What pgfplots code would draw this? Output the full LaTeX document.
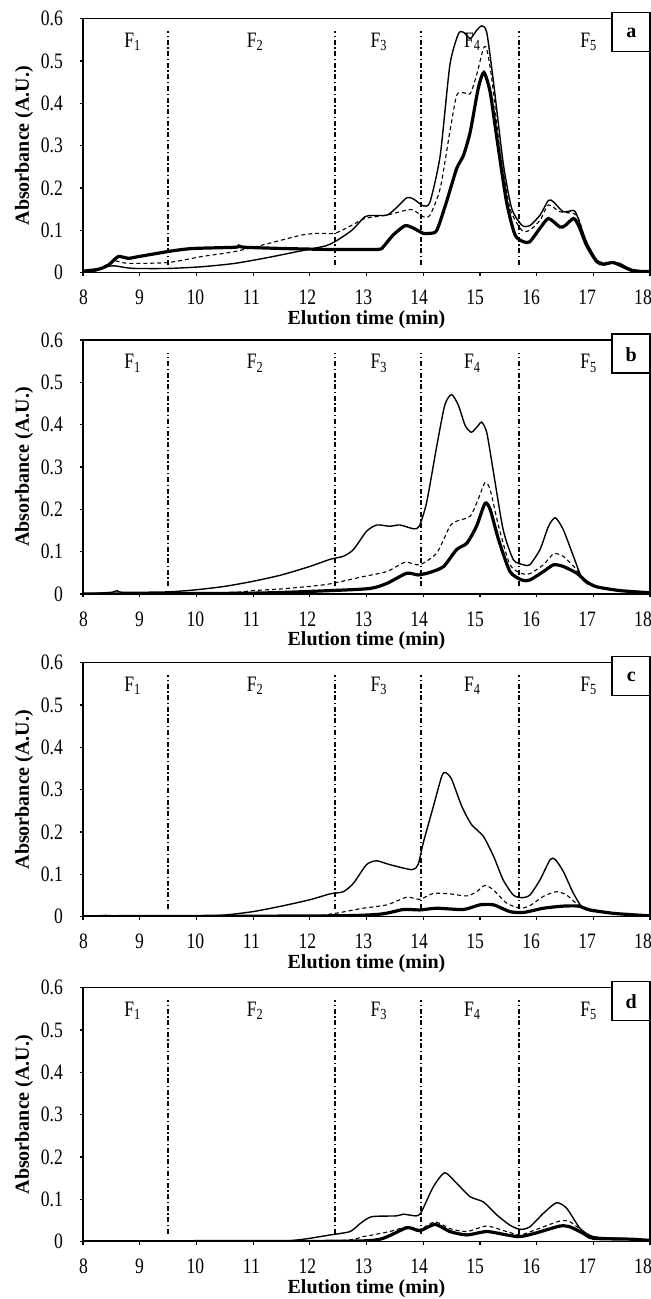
\documentclass[border=0pt]{standalone}
\usepackage{pgfplots}
\pgfplotsset{compat=1.18}
\usepackage{fontspec}
\setmainfont{Liberation Serif}
\newfontfamily\narrowfam{Liberation Serif}[FakeStretch=0.8]
\newcommand{\tickfont}{\narrowfam\fontsize{11}{13}\selectfont}
\newcommand{\ffont}{\narrowfam\fontsize{11}{13}\selectfont}
\newcommand{\labfont}{\fontsize{10}{12}\selectfont\bfseries}
\pgfplotsset{
  panel/.style={
    scale only axis, width=283.5pt, height=127pt, anchor=south west,
    xmin=8, xmax=18, ymin=0, ymax=0.6,
    xtick={8,9,...,18}, ytick={0,0.1,0.2,0.3,0.4,0.5,0.6},
    xtick pos=bottom, ytick pos=left, tick align=outside, major tick length=1.5pt,
    tick style={black, line width=0.6pt},
    axis line style={black, line width=0.7pt},
    /pgf/number format/fixed, /pgf/number format/precision=1,
    /pgf/number format/assume math mode=true,
    tick label style={font=\tickfont},
    xticklabel style={anchor=center, yshift=-11pt, xshift={(0.3-0.38*\ticknum)*1pt}},
    yticklabel style={anchor=east, xshift=-5pt},
    xlabel={Elution time (min)}, ylabel={Absorbance (A.U.)},
    label style={font=\labfont},
    xlabel style={at={(axis description cs:0.5,0)}, anchor=center, yshift=-23.5pt},
    ylabel style={at={(axis description cs:0,0.5)}, anchor=center, yshift=29.5pt},
    clip mode=individual,
  },
}
\tikzset{
  sthin/.style={black, line width=0.7pt, smooth, tension=0.4},
  sthick/.style={black, line width=1.6pt, smooth, tension=0.4},
  sdsh/.style={black, line width=0.55pt, dash pattern=on 2pt off 1.5pt, smooth, tension=0.4},
  vdash/.style={black, line width=0.9pt, dash pattern=on 2.5pt off 1.3pt on 0.7pt off 1.3pt},
}
\newcommand{\decor}[1]{%
  \draw[vdash] (axis cs:9.5,0.018) -- (axis cs:9.5,0.57);
  \draw[vdash] (axis cs:12.44,0.018) -- (axis cs:12.44,0.57);
  \draw[vdash] (axis cs:13.96,0.018) -- (axis cs:13.96,0.57);
  \draw[vdash] (axis cs:15.69,0.018) -- (axis cs:15.69,0.57);
  \node[anchor=base, font=\ffont] at (axis cs:8.88,0.532) {F\textsubscript{1}};
  \node[anchor=base, font=\ffont] at (axis cs:11.04,0.532) {F\textsubscript{2}};
  \node[anchor=base, font=\ffont] at (axis cs:13.22,0.532) {F\textsubscript{3}};
  \node[anchor=base, font=\ffont] at (axis cs:14.87,0.532) {F\textsubscript{4}};
  \node[anchor=base, font=\ffont] at (axis cs:16.92,0.532) {F\textsubscript{5}};
  \draw[black, fill=white, line width=0.7pt] (axis cs:17.33,0.522) rectangle (axis cs:18,0.614);
  \node[font=\labfont] at (axis cs:17.67,0.566) {#1};
}
\begin{document}
\begin{tikzpicture}
\useasboundingbox (0,0) rectangle (325.5pt,649.5pt);
% ---------------- panel a
\begin{axis}[panel, at={(41.5pt,513.15pt)}]
\addplot[sthin] coordinates {(8,0) (8.2,0.003) (8.39,0.014) (8.56,0.016) (8.75,0.012) (8.92,0.01) (9.5,0.01) (10.09,0.014) (10.68,0.022) (11.27,0.036) (11.86,0.052) (12.27,0.063) (12.44,0.073) (12.74,0.1) (12.97,0.132) (13.1,0.135) (13.36,0.136) (13.5,0.15) (13.71,0.177) (13.83,0.174) (14.0,0.158) (14.12,0.167) (14.3,0.277) (14.47,0.49) (14.62,0.564) (14.71,0.568) (14.83,0.553) (14.94,0.572) (15.03,0.583) (15.12,0.568) (15.24,0.45) (15.41,0.26) (15.56,0.152) (15.74,0.112) (15.88,0.111) (16.06,0.136) (16.21,0.171) (16.3,0.167) (16.47,0.144) (16.65,0.147) (16.71,0.136) (16.88,0.073) (17.06,0.03) (17.18,0.022) (17.35,0.024) (17.47,0.022) (17.65,0.009) (17.94,0.002) (18,0.002)};
\addplot[sdsh] coordinates {(8,0) (8.3,0.01) (8.45,0.022) (8.56,0.028) (8.8,0.022) (9.5,0.024) (10.09,0.038) (10.68,0.05) (11.27,0.069) (11.86,0.089) (12.15,0.093) (12.44,0.093) (12.74,0.112) (12.97,0.128) (13.36,0.136) (13.71,0.148) (13.83,0.148) (14.0,0.132) (14.12,0.136) (14.3,0.199) (14.47,0.333) (14.59,0.419) (14.71,0.425) (14.83,0.423) (14.94,0.466) (15.06,0.529) (15.12,0.529) (15.21,0.458) (15.35,0.293) (15.53,0.152) (15.74,0.1) (15.88,0.1) (16.06,0.124) (16.21,0.16) (16.41,0.144) (16.65,0.14) (16.74,0.128) (16.88,0.07) (17.06,0.028) (17.35,0.023) (17.65,0.008) (18,0.002)};
\addplot[sthick] coordinates {(8,0) (8.035,0.004) (8.27,0.008) (8.45,0.018) (8.62,0.038) (8.8,0.034) (8.98,0.038) (9.5,0.05) (9.92,0.057) (10.68,0.06) (10.75,0.063) (10.85,0.06) (11.56,0.057) (12.27,0.055) (12.44,0.055) (13.2,0.055) (13.3,0.062) (13.47,0.089) (13.68,0.111) (13.83,0.105) (14.0,0.093) (14.12,0.093) (14.24,0.1) (14.41,0.167) (14.59,0.246) (14.71,0.277) (14.83,0.333) (14.97,0.435) (15.07,0.473) (15.18,0.427) (15.3,0.317) (15.47,0.167) (15.62,0.089) (15.77,0.073) (15.88,0.073) (16.06,0.105) (16.21,0.128) (16.41,0.108) (16.5,0.111) (16.65,0.128) (16.74,0.112) (16.88,0.065) (17.06,0.026) (17.18,0.02) (17.35,0.024) (17.53,0.014) (17.71,0.004) (18,0.003)};
\decor{a}
\end{axis}
% ---------------- panel b
\begin{axis}[panel, at={(41.5pt,352.5pt)}]
\addplot[sthin] coordinates {(8,0) (8.5,0.004) (8.6,0.008) (8.7,0.004) (9.5,0.005) (10,0.01) (10.5,0.018) (11,0.03) (11.5,0.045) (12,0.065) (12.36,0.082) (12.59,0.089) (12.77,0.105) (13.0,0.148) (13.18,0.163) (13.41,0.16) (13.59,0.163) (13.83,0.154) (13.93,0.16) (14.06,0.216) (14.24,0.35) (14.38,0.446) (14.5,0.471) (14.62,0.446) (14.74,0.398) (14.85,0.382) (14.97,0.398) (15.03,0.406) (15.12,0.382) (15.24,0.287) (15.41,0.152) (15.59,0.081) (15.77,0.069) (15.88,0.069) (16.06,0.105) (16.21,0.16) (16.33,0.18) (16.47,0.152) (16.65,0.089) (16.82,0.033) (17.06,0.017) (17.35,0.01) (17.65,0.006) (18,0.003)};
\addplot[sdsh] coordinates {(8,0) (10.5,0.003) (11,0.008) (11.5,0.012) (12,0.018) (12.36,0.024) (12.94,0.041) (13.36,0.053) (13.68,0.075) (13.94,0.069) (14.24,0.097) (14.47,0.16) (14.59,0.172) (14.83,0.184) (14.97,0.224) (15.09,0.263) (15.18,0.247) (15.33,0.16) (15.53,0.069) (15.74,0.048) (15.88,0.048) (16.12,0.069) (16.3,0.095) (16.47,0.089) (16.71,0.057) (16.88,0.025) (17.06,0.017) (17.5,0.006) (18,0.003)};
\addplot[sthick] coordinates {(8,0) (11,0.002) (12.36,0.008) (13.06,0.013) (13.36,0.025) (13.71,0.049) (13.91,0.045) (14.12,0.051) (14.36,0.065) (14.59,0.105) (14.77,0.12) (14.94,0.16) (15.09,0.214) (15.18,0.2) (15.33,0.128) (15.53,0.053) (15.74,0.033) (15.88,0.033) (16.12,0.053) (16.3,0.069) (16.47,0.065) (16.71,0.049) (16.88,0.029) (17.06,0.017) (17.47,0.008) (18,0.003)};
\decor{b}
\end{axis}
% ---------------- panel c
\begin{axis}[panel, at={(41.5pt,191.15pt)}]
\addplot[sthin] coordinates {(8,0) (8.4,0.003) (8.6,0.002) (10,0.001) (10.5,0.004) (11,0.012) (11.5,0.025) (12,0.04) (12.36,0.054) (12.59,0.059) (12.77,0.079) (13.0,0.123) (13.18,0.132) (13.41,0.123) (13.8,0.111) (13.91,0.123) (14.0,0.174) (14.18,0.261) (14.33,0.333) (14.4,0.34) (14.5,0.325) (14.68,0.261) (14.85,0.218) (15.06,0.19) (15.24,0.143) (15.41,0.087) (15.59,0.051) (15.74,0.045) (15.88,0.051) (16.06,0.087) (16.24,0.135) (16.33,0.135) (16.47,0.107) (16.65,0.055) (16.82,0.02) (17.06,0.012) (17.47,0.006) (18,0.002)};
\addplot[sdsh] coordinates {(8,0) (11.8,0.001) (12.36,0.006) (12.94,0.02) (13.36,0.028) (13.71,0.046) (13.94,0.041) (14.18,0.055) (14.47,0.054) (14.77,0.049) (14.94,0.059) (15.09,0.074) (15.24,0.063) (15.47,0.032) (15.71,0.02) (15.88,0.026) (16.12,0.048) (16.35,0.059) (16.53,0.051) (16.77,0.024) (17.0,0.012) (17.5,0.006) (18,0.002)};
\addplot[sthick] coordinates {(8,0) (12.36,0.002) (13.24,0.006) (13.65,0.017) (13.94,0.016) (14.24,0.02) (14.71,0.017) (15.0,0.028) (15.24,0.028) (15.53,0.012) (15.77,0.01) (16.12,0.02) (16.47,0.025) (16.74,0.025) (16.94,0.016) (17.35,0.008) (17.76,0.004) (18,0.002)};
\decor{c}
\end{axis}
% ---------------- panel d
\begin{axis}[panel, at={(41.5pt,28.65pt)}]
\addplot[sthin] coordinates {(8,0) (11.3,0.001) (11.7,0.003) (12,0.008) (12.36,0.016) (12.71,0.024) (12.89,0.043) (13.09,0.059) (13.53,0.061) (13.65,0.065) (13.88,0.061) (13.97,0.071) (14.18,0.13) (14.38,0.163) (14.59,0.138) (14.83,0.106) (15.06,0.094) (15.3,0.063) (15.53,0.039) (15.71,0.029) (15.88,0.035) (16.12,0.067) (16.35,0.092) (16.53,0.079) (16.77,0.031) (17.0,0.012) (17.47,0.008) (17.94,0.004) (18,0.003)};
\addplot[sdsh] coordinates {(8,0) (12.36,0.002) (12.94,0.012) (13.41,0.024) (13.71,0.035) (13.94,0.029) (14.21,0.047) (14.47,0.031) (14.77,0.024) (15.12,0.037) (15.47,0.024) (15.71,0.016) (16.0,0.029) (16.41,0.049) (16.59,0.047) (16.82,0.024) (17.0,0.01) (17.5,0.006) (18,0.003)};
\addplot[sthick] coordinates {(8,0) (12.5,0.001) (13.24,0.006) (13.71,0.033) (13.94,0.026) (14.21,0.041) (14.47,0.024) (14.77,0.016) (15.12,0.024) (15.47,0.016) (15.71,0.012) (16.0,0.021) (16.41,0.037) (16.59,0.035) (16.82,0.02) (17.0,0.008) (17.65,0.006) (18,0.003)};
\decor{d}
\end{axis}
\end{tikzpicture}
\end{document}
